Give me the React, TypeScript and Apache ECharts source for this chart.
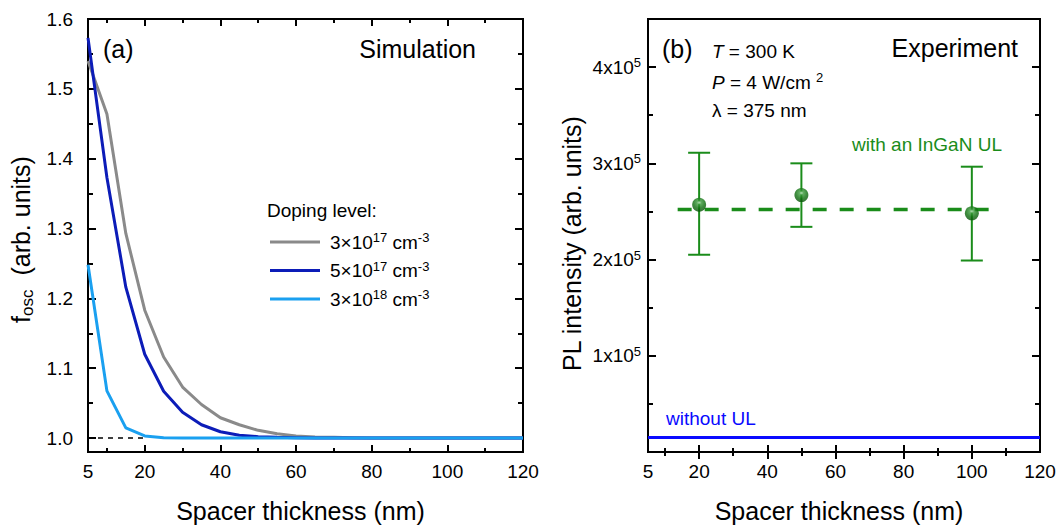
import React, { useEffect, useRef } from 'react';
import * as echarts from 'echarts';

// ---------- data ----------
const thickness = [5, 10, 15, 20, 25, 30, 35, 40, 45, 50, 55, 60, 65, 70, 75, 80, 85, 90, 95, 100, 105, 110, 115, 120];
const dop3e17 = [1.54, 1.464, 1.293, 1.183, 1.116, 1.073, 1.048, 1.029, 1.019, 1.011, 1.006, 1.003, 1.0015, 1.001, 1.0005, 1, 1, 1, 1, 1, 1, 1, 1, 1];
const dop5e17 = [1.573, 1.373, 1.216, 1.12, 1.067, 1.037, 1.019, 1.009, 1.004, 1.002, 1.001, 1.0005, 1, 1, 1, 1, 1, 1, 1, 1, 1, 1, 1, 1];
const dop3e18 = [1.248, 1.0675, 1.0145, 1.003, 1.0005, 1, 1, 1, 1, 1, 1, 1, 1, 1, 1, 1, 1, 1, 1, 1, 1, 1, 1, 1];
const seriesNames = ['3e17', '5e17', '3e18'];
const legendLabels = ['{a|3×10}{s|17}{a| cm}{s|-3}', '{a|5×10}{s|17}{a| cm}{s|-3}', '{a|3×10}{s|18}{a| cm}{s|-3}'];
const refLine = [[5, 1], [20, 1]];

const expThickness = [20, 50, 100];
const expIntensity = [2.57e5, 2.67e5, 2.48e5];
const expErrLow = [2.05e5, 2.34e5, 1.99e5];
const expErrHigh = [3.11e5, 3.0e5, 2.965e5];
const meanLevel = 2.52e5;
const meanRange = [13.7, 106.5];
const withoutUL = 1.5e4;

const xTickLabels = [5, 20, 40, 60, 80, 100, 120];
const xMajorTicks = [20, 40, 60, 80, 100];
const xMinorTicks = [10, 30, 50, 70, 90, 110];
const leftYTicks = [1.0, 1.1, 1.2, 1.3, 1.4, 1.5, 1.6];
const leftYMinor = [1.05, 1.15, 1.25, 1.35, 1.45, 1.55];
const rightYTicks = [1e5, 2e5, 3e5, 4e5];
const rightYMinor = [0.5e5, 1.5e5, 2.5e5, 3.5e5];

const FONT = 'Liberation Sans, Arial, sans-serif';
const GREEN = '#1a8c1a';
const BLUE = '#0a0aff';
const colors = ['#8a8a8a', '#0c1cb8', '#1aa0f0'];

const supRich = {
  a: { fontSize: 19, lineHeight: 22, fontFamily: FONT, color: '#000' },
  s: { fontSize: 13, lineHeight: 10, verticalAlign: 'top', fontFamily: FONT, color: '#000' },
};

function xAxes(gridIndex: number) {
  const base = { type: 'value', gridIndex, min: 5, max: 120, splitLine: { show: false }, axisLine: { show: false } };
  return [
    {
      ...base, position: 'bottom',
      name: 'Spacer thickness (nm)', nameLocation: 'middle', nameGap: 46,
      nameTextStyle: { fontSize: 25, fontFamily: FONT, color: '#000', padding: [0, 10, 0, 0] },
      axisTick: { show: true, inside: true, length: 7, customValues: xMajorTicks, lineStyle: { color: '#000', width: 2 } },
      axisLabel: { show: true, customValues: xTickLabels, margin: 10, fontSize: 19, fontFamily: FONT, color: '#000' },
    },
    { ...base, position: 'bottom', axisTick: { show: true, inside: true, length: 4, customValues: xMinorTicks, lineStyle: { color: '#000', width: 2 } }, axisLabel: { show: false } },
    { ...base, position: 'top', axisTick: { show: true, inside: true, length: 7, customValues: xMajorTicks, lineStyle: { color: '#000', width: 2 } }, axisLabel: { show: false } },
    { ...base, position: 'top', axisTick: { show: true, inside: true, length: 4, customValues: xMinorTicks, lineStyle: { color: '#000', width: 2 } }, axisLabel: { show: false } },
  ];
}

function yAxes(gridIndex: number, min: number, max: number, major: number[], minor: number[], label: any, name: any) {
  const base = { type: 'value', gridIndex, min, max, splitLine: { show: false }, axisLine: { show: false } };
  return [
    {
      ...base, position: 'left', ...name,
      axisTick: { show: true, inside: true, length: 8, customValues: major, lineStyle: { color: '#000', width: 2 } },
      axisLabel: { show: true, customValues: major, fontSize: 19, fontFamily: FONT, color: '#000', ...label },
    },
    { ...base, position: 'left', axisTick: { show: true, inside: true, length: 5, customValues: minor, lineStyle: { color: '#000', width: 2 } }, axisLabel: { show: false } },
    { ...base, position: 'right', axisTick: { show: true, inside: true, length: 8, customValues: major, lineStyle: { color: '#000', width: 2 } }, axisLabel: { show: false } },
    { ...base, position: 'right', axisTick: { show: true, inside: true, length: 5, customValues: minor, lineStyle: { color: '#000', width: 2 } }, axisLabel: { show: false } },
  ];
}

export default function App() {
  const ref = useRef<HTMLDivElement>(null);
  useEffect(() => {
    document.body.style.margin = '0';
    const chart = echarts.init(ref.current!, null, { renderer: 'svg' });
    const zip = (ys: number[]) => thickness.map((x, i) => [x, ys[i]]);
    const option: any = {
      animation: false,
      backgroundColor: '#fff',
      grid: [
        { left: 88, top: 19, width: 435, height: 433, show: true, borderColor: '#000', borderWidth: 2, backgroundColor: 'transparent' },
        { left: 648, top: 19, width: 392, height: 433, show: true, borderColor: '#000', borderWidth: 2, backgroundColor: 'transparent' },
      ],
      xAxis: [...xAxes(0), ...xAxes(1)],
      yAxis: [
        ...yAxes(0, 0.98, 1.6, leftYTicks, leftYMinor,
          { margin: 15, formatter: (v: number) => v.toFixed(1) },
          {
            name: '{a|f}{b|osc}{a|  (arb. units)}', nameLocation: 'middle', nameGap: 52,
            nameTextStyle: {
              padding: [0, 8, 0, 0],
              rich: {
                a: { fontSize: 25, lineHeight: 30, fontFamily: FONT, color: '#000' },
                b: { fontSize: 17, lineHeight: 20, verticalAlign: 'bottom', fontFamily: FONT, color: '#000' },
              },
            },
          }),
        ...yAxes(1, 0, 4.5e5, rightYTicks, rightYMinor,
          { margin: 7, formatter: (v: number) => `{a|${Math.round(v / 1e5)}x10}{s|5}`, rich: supRich },
          {
            name: 'PL intensity (arb. units)', nameLocation: 'middle', nameGap: 64,
            nameTextStyle: { fontSize: 25, fontFamily: FONT, color: '#000', padding: [0, 16, 0, 0] },
          }),
      ],
      legend: {
        left: 265, top: 226, orient: 'vertical', itemWidth: 50, itemHeight: 3, itemGap: 8,
        icon: 'rect', selectedMode: false, data: seriesNames,
        formatter: (n: string) => legendLabels[seriesNames.indexOf(n)],
        textStyle: { fontSize: 19, fontFamily: FONT, color: '#000', padding: [0, 0, 0, 5], rich: supRich },
      },
      graphic: [
        { type: 'text', left: 103, top: 36, style: { text: '(a)', font: `25px ${FONT}`, fill: '#000' } },
        { type: 'text', right: 1062 - 476, top: 36, style: { text: 'Simulation', font: `25px ${FONT}`, fill: '#000' } },
        { type: 'text', left: 267, top: 201, style: { text: 'Doping level:', font: `19px ${FONT}`, fill: '#000' } },
        { type: 'text', left: 662, top: 36, style: { text: '(b)', font: `25px ${FONT}`, fill: '#000' } },
        { type: 'text', right: 1062 - 1018, top: 35, style: { text: 'Experiment', font: `25px ${FONT}`, fill: '#000' } },
        {
          type: 'text', left: 712, top: 42,
          style: {
            text: '{i|T}{n| = 300 K}',
            rich: { i: { fontSize: 19, fontStyle: 'italic', fontFamily: FONT, fill: '#000', lineHeight: 22 }, n: { fontSize: 19, fontFamily: FONT, fill: '#000', lineHeight: 22 } },
          },
        },
        {
          type: 'text', left: 712, top: 71,
          style: {
            text: '{i|P}{n| = 4 W/cm }{s|2}',
            rich: {
              i: { fontSize: 19, fontStyle: 'italic', fontFamily: FONT, fill: '#000', lineHeight: 22 },
              n: { fontSize: 19, fontFamily: FONT, fill: '#000', lineHeight: 22 },
              s: { fontSize: 13, fontFamily: FONT, fill: '#000', lineHeight: 10, verticalAlign: 'top' },
            },
          },
        },
        { type: 'text', left: 712, top: 101, style: { text: 'λ = 375 nm', font: `19px ${FONT}`, fill: '#000' } },
        { type: 'text', left: 852, top: 135, style: { text: 'with an InGaN UL', font: `19px ${FONT}`, fill: GREEN } },
        { type: 'text', left: 666, top: 409, style: { text: 'without UL', font: `19px ${FONT}`, fill: BLUE } },
      ],
      series: [
        {
          type: 'line', xAxisIndex: 0, yAxisIndex: 0, data: refLine, symbol: 'none', silent: true,
          lineStyle: { color: '#000', width: 1.5, type: [5, 5] }, z: 1,
        },
        ...[dop3e17, dop5e17, dop3e18].map((d, i) => ({
          name: seriesNames[i], type: 'line', xAxisIndex: 0, yAxisIndex: 0, data: zip(d), symbol: 'none',
          color: colors[i], lineStyle: { color: colors[i], width: 3 }, z: 2 + i,
        })),
        {
          type: 'line', xAxisIndex: 4, yAxisIndex: 4, data: [[5, withoutUL], [120, withoutUL]], symbol: 'none',
          lineStyle: { color: BLUE, width: 3 },
        },
        {
          type: 'line', xAxisIndex: 4, yAxisIndex: 4, data: [[meanRange[0], meanLevel], [meanRange[1], meanLevel]], symbol: 'none',
          lineStyle: { color: GREEN, width: 3.5, type: [14, 13] }, z: 2,
        },
        {
          type: 'custom', xAxisIndex: 4, yAxisIndex: 4, z: 3,
          data: expThickness.map((x, i) => [x, expErrLow[i], expErrHigh[i]]),
          encode: { x: 0, y: [1, 2] },
          renderItem: (params: any, api: any) => {
            const x = api.value(0);
            const lo = api.coord([x, api.value(1)]);
            const hi = api.coord([x, api.value(2)]);
            const hw = 11;
            const st = { stroke: GREEN, lineWidth: 2 };
            return {
              type: 'group',
              children: [
                { type: 'line', shape: { x1: lo[0], y1: lo[1], x2: hi[0], y2: hi[1] }, style: st },
                { type: 'line', shape: { x1: lo[0] - hw, y1: lo[1], x2: lo[0] + hw, y2: lo[1] }, style: st },
                { type: 'line', shape: { x1: hi[0] - hw, y1: hi[1], x2: hi[0] + hw, y2: hi[1] }, style: st },
              ],
            };
          },
        },
        {
          type: 'scatter', xAxisIndex: 4, yAxisIndex: 4, z: 4, symbolSize: 14,
          data: expThickness.map((x, i) => [x, expIntensity[i]]),
          itemStyle: {
            color: new echarts.graphic.RadialGradient(0.5, 0.35, 0.65, [
              { offset: 0, color: '#e0f5e0' },
              { offset: 0.22, color: '#3a9a3a' },
              { offset: 0.6, color: '#0f700f' },
              { offset: 1, color: '#065206' },
            ]),
          },
        },
      ],
    };
    chart.setOption(option);
    return () => chart.dispose();
  }, []);
  return <div ref={ref} style={{ width: 1062, height: 529 }} />;
}
